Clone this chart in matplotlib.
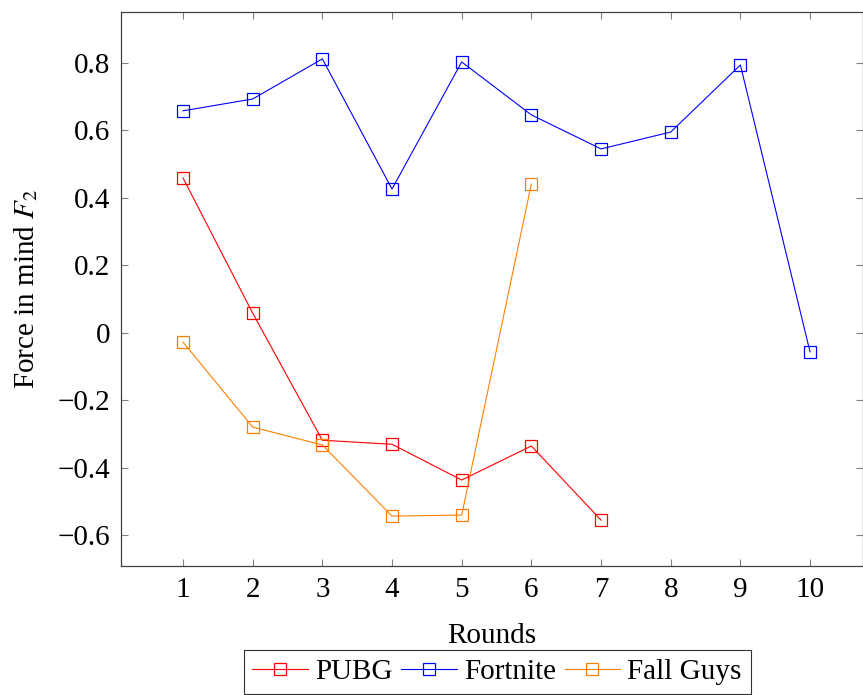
import matplotlib
matplotlib.use('Agg')
import matplotlib.pyplot as plt

plt.rcParams['font.family'] = ['Liberation Serif', 'DejaVu Serif']
plt.rcParams['mathtext.fontset'] = 'stix'

rounds_pubg = [1, 2, 3, 4, 5, 6, 7]
pubg = [0.459, 0.058, -0.319, -0.331, -0.437, -0.336, -0.556]

rounds_fortnite = [1, 2, 3, 4, 5, 6, 7, 8, 9, 10]
fortnite = [0.658, 0.693, 0.812, 0.426, 0.803, 0.646, 0.545, 0.595, 0.794, -0.057]

rounds_fallguys = [1, 2, 3, 4, 5, 6]
fallguys = [-0.028, -0.280, -0.333, -0.544, -0.541, 0.441]

xticks = [1, 2, 3, 4, 5, 6, 7, 8, 9, 10]
yticks = [-0.6, -0.4, -0.2, 0, 0.2, 0.4, 0.6, 0.8]
ytick_labels = ['\u22120.6', '\u22120.4', '\u22120.2', '0', '0.2', '0.4', '0.6', '0.8']

fs = 21

fig = plt.figure(figsize=(8.63, 6.95), dpi=100)
ax = fig.add_axes([0.1402, 0.1856, 0.8598, 0.7971])

style = dict(marker='s', markersize=8, markerfacecolor='none',
             linewidth=0.8, markeredgewidth=0.9)
ax.plot(rounds_pubg, pubg, color='#ff0000', label='PUBG', **style)
ax.plot(rounds_fortnite, fortnite, color='#0000ff', label='Fortnite', **style)
ax.plot(rounds_fallguys, fallguys, color='#ff8000', label='Fall Guys', **style)

ax.set_xlim(0.11, 10.76)
ax.set_ylim(-0.692, 0.951)
ax.set_xticks(xticks)
ax.set_yticks(yticks)
ax.set_yticklabels(ytick_labels)
ax.tick_params(direction='in', length=5, color='#808080', width=0.8,
               top=True, right=True, labelsize=fs, pad=8)
for s in ax.spines.values():
    s.set_color('#404040')
    s.set_linewidth(0.9)

ax.set_xlabel('Rounds', fontsize=fs, labelpad=14)
ax.set_ylabel('Force in mind $F_2$', fontsize=fs, labelpad=12)

leg = fig.legend(loc='upper center', bbox_to_anchor=(0.576, 0.0647), ncol=3,
                 fontsize=fs, frameon=True, fancybox=False, edgecolor='black',
                 handlelength=1.9, handletextpad=0.25, columnspacing=0.3,
                 borderpad=0.3, borderaxespad=0)
leg.get_frame().set_linewidth(0.8)

fig.savefig('out.png', dpi=100)
